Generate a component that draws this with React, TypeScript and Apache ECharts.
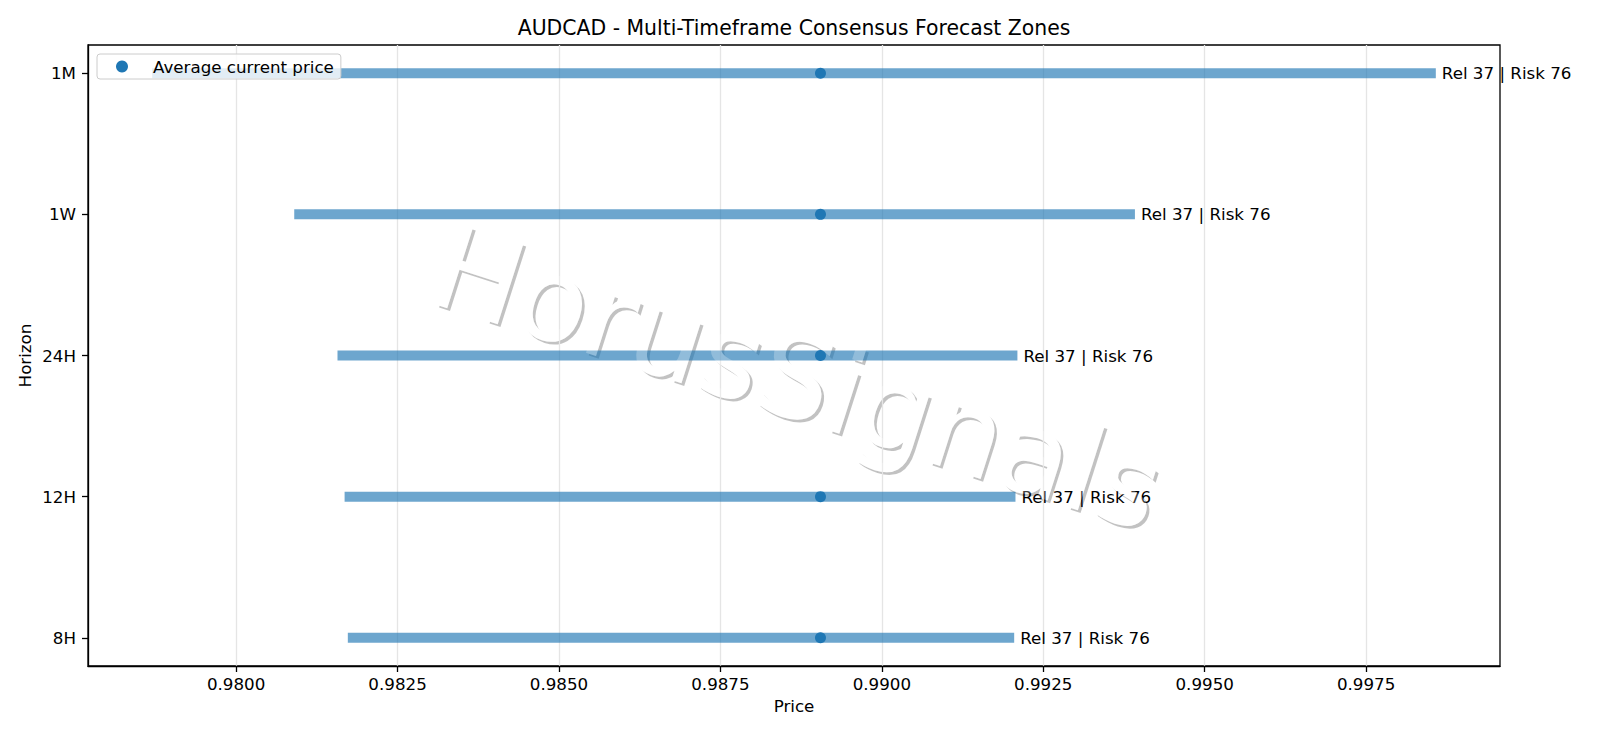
import * as echarts from 'echarts';
import { useEffect, useRef } from 'react';

const horizons = ['8H', '12H', '24H', '1W', '1M'];
const zoneLow = [0.98173, 0.98168, 0.98157, 0.98090, 0.97870];
const zoneHigh = [0.99205, 0.99207, 0.99210, 0.99392, 0.99858];
const currentPrice = [0.98905, 0.98905, 0.98905, 0.98905, 0.98905];
const zoneLabels = ['Rel 37 | Risk 76', 'Rel 37 | Risk 76', 'Rel 37 | Risk 76', 'Rel 37 | Risk 76', 'Rel 37 | Risk 76'];
const priceTicks = [0.98, 0.9825, 0.985, 0.9875, 0.99, 0.9925, 0.995, 0.9975];

const FONT = 'DejaVu Sans';
const FS = 16.7;

// watermark centre and angle
const WM_X = 798;
const WM_Y = 378;
const WM_ROT = -0.31;

const App = () => {
    const chartRef = useRef<HTMLDivElement>(null);

    useEffect(() => {
        if (!chartRef.current) return;
        document.body.style.margin = '0';
        const chart = echarts.init(chartRef.current, null, { renderer: 'svg' });

        const lo = Math.min(...zoneLow);
        const hi = Math.max(...zoneHigh);
        const pad = (hi - lo) * 0.05;

        const zoneSeries = horizons.map((h, i) => ({
            name: h,
            type: 'line',
            data: [[zoneLow[i], i], [zoneHigh[i], i]],
            symbol: 'none',
            lineStyle: { width: 10, color: 'rgba(31,119,180,0.65)', cap: 'butt' },
            endLabel: {
                show: true,
                formatter: zoneLabels[i],
                distance: 6,
                color: '#000',
                fontSize: FS,
                fontFamily: FONT,
            },
            z: 2,
        }));

        const wmText = {
            text: 'HorusSignals',
            fontSize: 116,
            fontFamily: FONT,
            align: 'center',
            verticalAlign: 'middle',
        };

        chart.setOption({
            animation: false,
            textStyle: { fontFamily: FONT },
            title: {
                text: 'AUDCAD - Multi-Timeframe Consensus Forecast Zones',
                left: 789,
                textAlign: 'center',
                top: 13,
                textStyle: { fontSize: 20.4, fontWeight: 'normal', color: '#000', fontFamily: FONT },
            },
            legend: {
                data: ['Average current price'],
                left: 97,
                top: 54,
                orient: 'vertical',
                backgroundColor: 'rgba(255,255,255,0.8)',
                borderColor: '#cccccc',
                borderWidth: 1,
                borderRadius: 3,
                padding: [4, 7, 4, 19],
                itemWidth: 12,
                itemHeight: 12,
                icon: 'circle',
                textStyle: { fontSize: FS, color: '#000', fontFamily: FONT, padding: [0, 0, 0, 20] },
            },
            grid: { left: 88, right: 100, top: 45, bottom: 72, show: true, borderColor: '#000', borderWidth: 1.3 },
            xAxis: {
                type: 'value',
                min: lo - pad,
                max: hi + pad,
                name: 'Price',
                nameLocation: 'middle',
                nameGap: 31,
                nameMoveOverlap: false,
                nameTextStyle: { fontSize: FS, color: '#000', fontFamily: FONT },
                axisLine: { show: true, onZero: false, lineStyle: { color: '#000', width: 1.3 } },
                axisTick: { show: true, customValues: priceTicks, length: 6, lineStyle: { color: '#000', width: 1.3 } },
                axisLabel: {
                    customValues: priceTicks,
                    formatter: (v: number) => v.toFixed(4),
                    fontSize: FS,
                    color: '#000',
                    margin: 9,
                    fontFamily: FONT,
                },
                splitLine: { show: true, lineStyle: { color: '#e5e5e5', width: 1.3 } },
            },
            yAxis: {
                type: 'value',
                min: -0.2,
                max: 4.2,
                name: 'Horizon',
                nameLocation: 'middle',
                nameGap: 55,
                nameMoveOverlap: false,
                nameTextStyle: { fontSize: FS, color: '#000', fontFamily: FONT },
                axisLine: { show: true, onZero: false, lineStyle: { color: '#000', width: 1.3 } },
                axisTick: { show: true, customValues: [0, 1, 2, 3, 4], length: 6, lineStyle: { color: '#000', width: 1.3 } },
                axisLabel: {
                    customValues: [0, 1, 2, 3, 4],
                    formatter: (v: number) => horizons[Math.round(v)] ?? '',
                    fontSize: FS,
                    color: '#000',
                    margin: 12,
                    fontFamily: FONT,
                },
                splitLine: { show: false },
            },
            series: [
                ...zoneSeries,
                {
                    name: 'Average current price',
                    type: 'scatter',
                    data: currentPrice.map((p, i) => [p, i]),
                    symbolSize: 11,
                    itemStyle: { color: '#1f77b4', opacity: 1 },
                    z: 3,
                },
            ],
            graphic: [
                // shadow, knocked out by an opaque copy, both under the plot
                {
                    type: 'text',
                    x: WM_X + 2.7,
                    y: WM_Y + 2.7,
                    rotation: WM_ROT,
                    z: -10,
                    silent: true,
                    style: { ...wmText, fill: 'rgba(0,0,0,0.24)' },
                },
                {
                    type: 'text',
                    x: WM_X,
                    y: WM_Y,
                    rotation: WM_ROT,
                    z: -9,
                    silent: true,
                    style: { ...wmText, fill: '#ffffff' },
                },
                // translucent fill over the bars
                {
                    type: 'text',
                    x: WM_X,
                    y: WM_Y,
                    rotation: WM_ROT,
                    z: 100,
                    silent: true,
                    style: { ...wmText, fill: 'rgba(255,255,255,0.25)' },
                },
            ],
        });

        const onResize = () => chart.resize();
        window.addEventListener('resize', onResize);
        return () => {
            window.removeEventListener('resize', onResize);
            chart.dispose();
        };
    }, []);

    return <div ref={chartRef} style={{ width: 1600, height: 738, background: '#fff' }} />;
};

export default App;
